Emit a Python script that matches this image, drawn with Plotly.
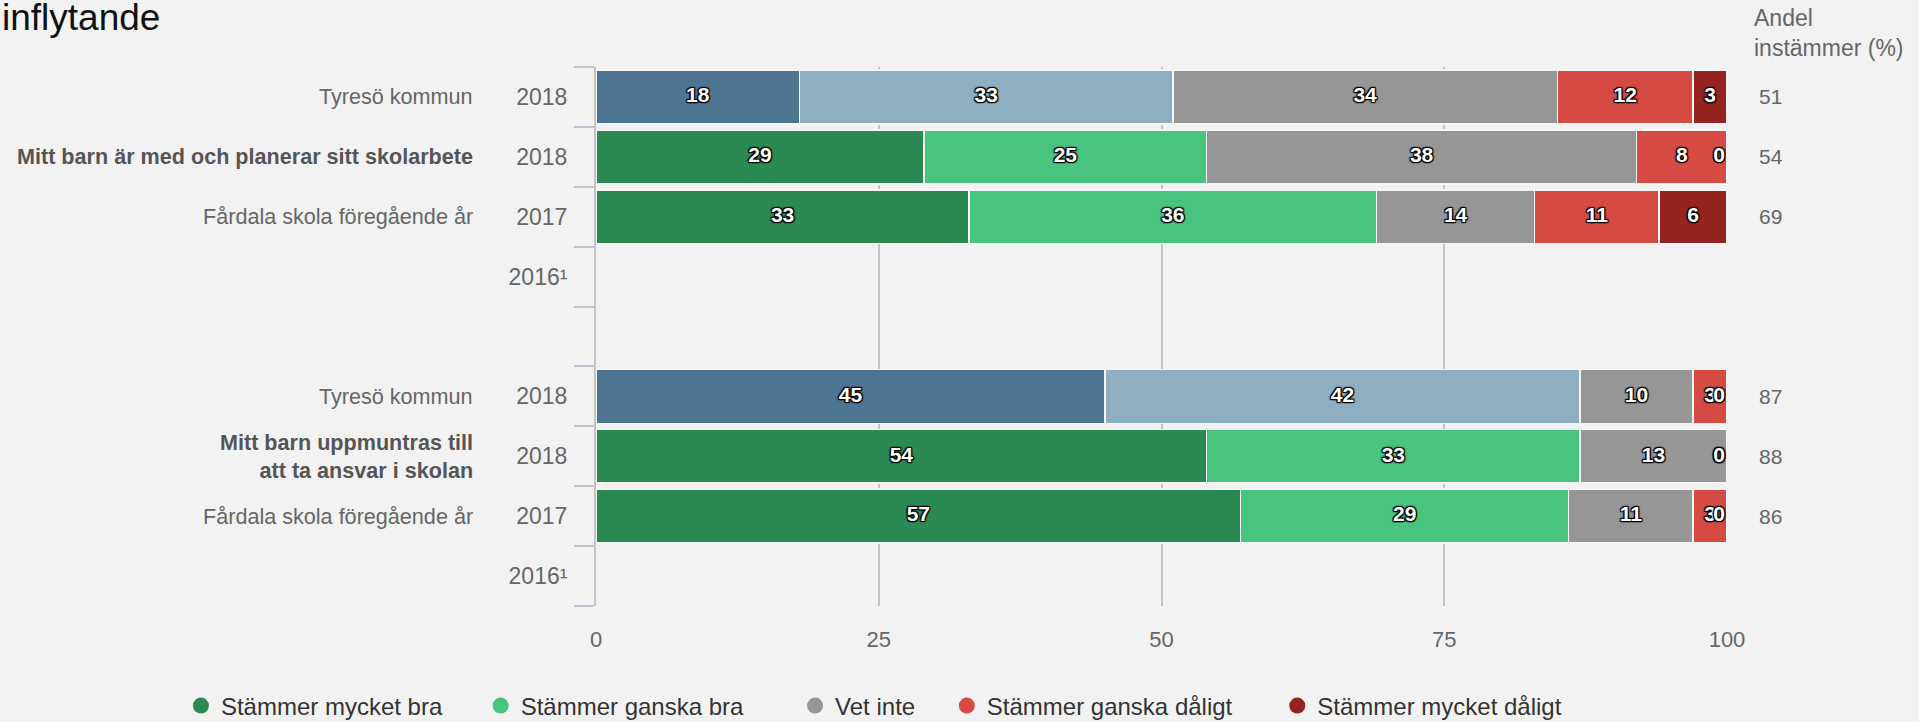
import plotly.graph_objects as go

# ---------------- data ----------------
rows = [0, 1, 2, 3, 4, 5, 6, 7, 8]
years = ["2018", "2018", "2017", "2016¹", "", "2018", "2018", "2017", "2016¹"]
row_names = [
    "Tyresö kommun",
    "<b>Mitt barn är med och planerar sitt skolarbete</b>",
    "Fårdala skola föregående år",
    "",
    "",
    "Tyresö kommun",
    "<b>Mitt barn uppmuntras till<br>att ta ansvar i skolan</b>",
    "Fårdala skola föregående år",
    "",
]
is_municipality = [True, False, False, False, False, True, False, False, False]

series_names = ["Stämmer mycket bra", "Stämmer ganska bra", "Vet inte",
                "Stämmer ganska dåligt", "Stämmer mycket dåligt"]
mycket_bra = [18, 29, 33, None, None, 45, 54, 57, None]
ganska_bra = [33, 25, 36, None, None, 42, 33, 29, None]
vet_inte = [34, 38, 14, None, None, 10, 13, 11, None]
ganska_daligt = [12, 8, 11, None, None, 3, 0, 3, None]
mycket_daligt = [3, 0, 6, None, None, 0.4, 0, 0, None]
andel_instammer = [51, 54, 69, None, None, 87, 88, 86, None]

series_values = [mycket_bra, ganska_bra, vet_inte, ganska_daligt, mycket_daligt]
series_colors = ["#2b8a53", "#48c47e", "#969696", "#d64a44", "#952420"]
municipality_colors = ["#4d7491", "#8eaec1", "#969696", "#d64a44", "#952420"]
legend_pad = [5, 7, 4, 6, 0]

FONT = "Liberation Sans, Arial, Helvetica, sans-serif"
OUTLINE = ("1px 1px 1px #000, -1px -1px 1px #000, 1px -1px 1px #000, "
           "-1px 1px 1px #000, 0 0 2px #000, 0 0 2px #000")

fig = go.Figure()

# stacked bars
for i, (name, vals) in enumerate(zip(series_names, series_values)):
    cols = [municipality_colors[i] if m else series_colors[i] for m in is_municipality]
    fig.add_trace(go.Bar(
        orientation="h", y=rows, x=vals, name=name, width=0.9,
        marker=dict(color=cols, line=dict(color="#f6f6f6", width=1.5)),
        showlegend=False, hoverinfo="x+name",
    ))

# value labels inside segments
base = [0.0] * len(rows)
for i, vals in enumerate(series_values):
    xs, ys, ts = [], [], []
    for r, v in enumerate(vals):
        if v is None:
            continue
        c = base[r] + v / 2.0
        xs.append(min(c, 99.3))
        ys.append(rows[r])
        ts.append(str(int(round(v))))
        base[r] += v
    fig.add_trace(go.Scatter(
        x=xs, y=ys, text=ts, mode="text", showlegend=False, hoverinfo="skip",
        textfont=dict(family=FONT, size=21, color="white", weight="bold",
                      shadow=OUTLINE),
    ))

# legend entries (circles)
for name, col, pad in zip(series_names, series_colors, legend_pad):
    fig.add_trace(go.Scatter(
        x=[None], y=[None], mode="markers", name=name + "\u00a0" * pad,
        marker=dict(symbol="circle", size=16, color=col),
    ))

# row name annotations
for r, nm in zip(rows, row_names):
    if nm:
        fig.add_annotation(
            x=-0.107, xref="paper", y=r, yref="y", text=nm, showarrow=False,
            xanchor="right", yanchor="middle", align="right",
            font=dict(family=FONT, size=21.6, color="#555" if "<b>" in nm else "#666"),
        )

# share agreeing
for r, v in zip(rows, andel_instammer):
    if v is not None:
        fig.add_annotation(
            x=1.0265, xref="paper", y=r, yref="y", text=str(v), showarrow=False,
            xanchor="left", yanchor="middle",
            font=dict(family=FONT, size=21, color="#666"),
        )

fig.add_annotation(
    x=1.0221, xref="paper", y=1.064, yref="paper", text="Andel<br>instämmer (%)",
    showarrow=False, xanchor="left", yanchor="middle", align="left",
    font=dict(family=FONT, size=23, color="#666"),
)
fig.add_annotation(
    x=-0.527, xref="paper", y=1.092, yref="paper", text="inflytande",
    showarrow=False, xanchor="left", yanchor="middle", align="left",
    font=dict(family=FONT, size=37, color="#111"),
)

fig.update_layout(
    width=1919, height=722,
    margin=dict(l=596, r=192, t=67, b=116, autoexpand=False),
    paper_bgcolor="#f2f2f2", plot_bgcolor="#f2f2f2",
    barmode="stack", bargap=0.1,
    font=dict(family=FONT, size=21, color="#666"),
    legend=dict(orientation="h", x=-0.367, xanchor="left", y=-0.1855,
                yanchor="middle", traceorder="normal",
                font=dict(family=FONT, size=24, color="#333"),
                bgcolor="rgba(0,0,0,0)"),
    xaxis=dict(range=[0, 100], tickvals=[0, 25, 50, 75, 100], showgrid=True,
               gridcolor="#c4c4c4", gridwidth=2, zeroline=False, showline=False,
               ticks="", ticklabelstandoff=18, fixedrange=True, automargin=False,
               tickfont=dict(family=FONT, size=22, color="#666")),
    yaxis=dict(range=[8.5, -0.5], tickmode="array", tickvals=rows, ticktext=years,
               showgrid=False, zeroline=False, showline=True, linecolor="#c4c4c4",
               linewidth=2, ticks="", ticklabelstandoff=22, fixedrange=True,
               automargin=False,
               tickfont=dict(family=FONT, size=23, color="#666"),
               minor=dict(ticks="outside", ticklen=20, tickwidth=2,
                          tickcolor="#bcc4cf", tickmode="array",
                          tickvals=[k - 0.5 for k in range(10)], showgrid=False)),
)

fig.write_html("out.html",
               config={"displayModeBar": False},
               post_script="document.body.style.margin='0';"
                           "document.body.style.overflow='hidden';")
